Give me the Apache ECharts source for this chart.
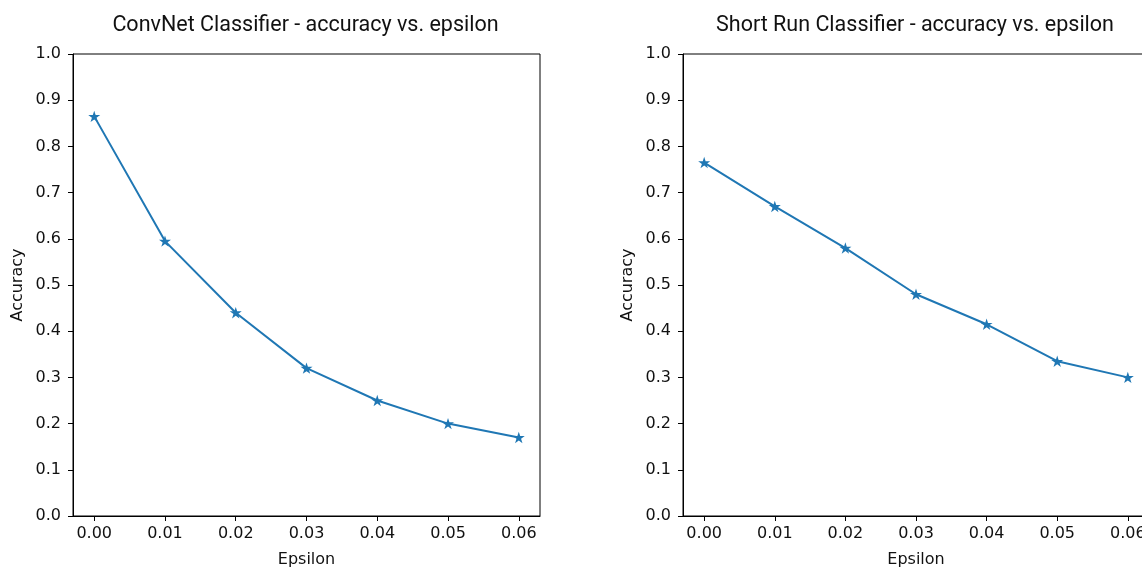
<!DOCTYPE html>
<html>
<head>
<meta charset="utf-8">
<script src="https://cdn.jsdelivr.net/npm/echarts@6/dist/echarts.min.js"></script>
<style>
  html, body { margin: 0; padding: 0; background: #fff; }
  #chart { width: 1142px; height: 567px; }
</style>
</head>
<body>
<div id="chart"></div>
<script>
// data
const epsilons = [0, 0.01, 0.02, 0.03, 0.04, 0.05, 0.06]
const convnetAcc = [0.865, 0.595, 0.44, 0.32, 0.25, 0.20, 0.17]
const shortRunAcc = [0.765, 0.67, 0.58, 0.48, 0.415, 0.335, 0.30]
const xTicks = [0, 0.01, 0.02, 0.03, 0.04, 0.05, 0.06]
const titles = ['ConvNet Classifier - accuracy vs. epsilon', 'Short Run Classifier - accuracy vs. epsilon']

const FONT = 'DejaVu Sans'
const TITLE_FONT = 'Roboto'
const TXT = '#111'
const STAR = 'path://M50 0 L61.23 34.55 L97.55 34.55 L68.17 55.9 L79.39 90.45 L50 69.1 L20.61 90.45 L31.83 55.9 L2.45 34.55 L38.77 34.55 Z'

// plot areas; the right one runs a little past the window edge like the original
const grids = [
  { left: 73, top: 54, width: 467, height: 462 },
  { left: 683, top: 54, width: 466, height: 462 },
]

function xAxis(i) {
  return {
    type: 'value',
    gridIndex: i,
    min: -0.003,
    max: 0.063,
    name: 'Epsilon',
    nameLocation: 'middle',
    nameGap: 36,
    nameTextStyle: { color: TXT, fontSize: 16, fontFamily: FONT },
    axisLine: { show: true, onZero: false, lineStyle: { color: '#000', width: 1 } },
    axisTick: { show: true, length: 5, lineStyle: { color: '#000' }, customValues: xTicks },
    axisLabel: {
      color: TXT, fontSize: 16, fontFamily: FONT, margin: 10,
      customValues: xTicks,
      formatter: v => v.toFixed(2),
    },
    splitLine: { show: false },
  }
}

function yAxis(i) {
  return {
    type: 'value',
    gridIndex: i,
    min: 0,
    max: 1,
    interval: 0.1,
    name: 'Accuracy',
    nameLocation: 'middle',
    nameGap: 47,
    nameTextStyle: { color: TXT, fontSize: 16, fontFamily: FONT },
    axisLine: { show: true, onZero: false, lineStyle: { color: '#000', width: 1 } },
    axisTick: { show: true, length: 5, lineStyle: { color: '#000' } },
    axisLabel: { color: TXT, fontSize: 16, fontFamily: FONT, margin: 12, formatter: v => v.toFixed(1) },
    splitLine: { show: false },
  }
}

function series(i, values) {
  return {
    type: 'line',
    xAxisIndex: i,
    yAxisIndex: i,
    data: epsilons.map((e, k) => [e, values[k]]),
    symbol: STAR,
    symbolSize: 12,
    symbolKeepAspect: true,
    showAllSymbol: true,
    lineStyle: { color: '#1f77b4', width: 2 },
    itemStyle: { color: '#1f77b4' },
    animation: false,
  }
}

const chart = echarts.init(document.getElementById('chart'), null, { renderer: 'canvas' })
chart.setOption({
  backgroundColor: '#fff',
  animation: false,
  title: titles.map((t, i) => ({
    text: t,
    left: grids[i].left + grids[i].width / 2 - 6,
    top: 10,
    textAlign: 'center',
    textStyle: { color: TXT, fontSize: 21.5, fontWeight: 'normal', fontFamily: TITLE_FONT },
  })),
  grid: grids.map(g => ({
    ...g,
    outerBoundsMode: 'none',
    show: true,
    borderColor: '#000',
    borderWidth: 1,
    backgroundColor: 'transparent',
  })),
  xAxis: [xAxis(0), xAxis(1)],
  yAxis: [yAxis(0), yAxis(1)],
  series: [series(0, convnetAcc), series(1, shortRunAcc)],
})
</script>
</body>
</html>
